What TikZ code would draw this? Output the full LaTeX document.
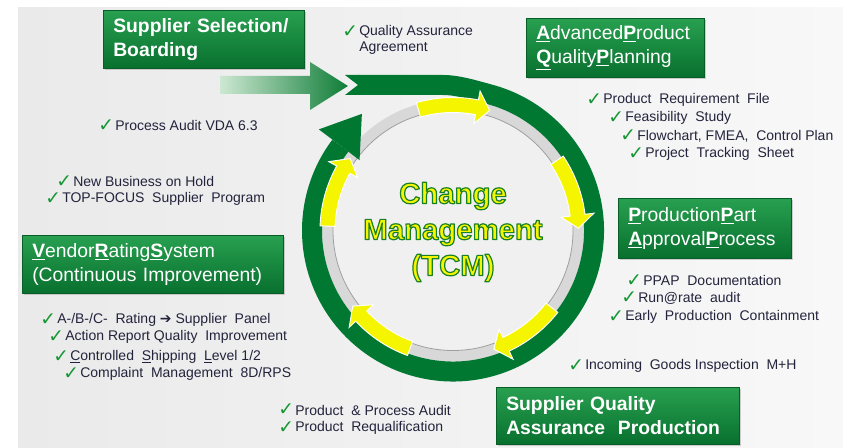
\documentclass[tikz,border=0pt]{standalone}
\usepackage{fontspec}
\setmainfont{Liberation Sans}
\newfontfamily\symf{DejaVu Sans}
\usetikzlibrary{shadows}
\definecolor{ringgreen}{RGB}{0,120,50}
\definecolor{boxtop}{RGB}{40,160,80}
\definecolor{boxbot}{RGB}{8,112,46}
\definecolor{listtext}{RGB}{35,35,60}
\definecolor{chkgreen}{RGB}{20,150,50}
\definecolor{bgL}{RGB}{234,234,234}
\definecolor{bgR}{RGB}{248,248,248}
\definecolor{tcmyellow}{RGB}{245,245,0}
\definecolor{grayband}{RGB}{216,216,216}
\definecolor{innerdisk}{RGB}{240,240,240}
\definecolor{arrowpale}{RGB}{205,232,210}
\definecolor{arrowdark}{RGB}{15,125,55}
\newcommand{\ck}{{\symf ✓}}
\newcommand{\ulb}[1]{\underline{\textbf{#1}}}
\newcommand{\ulc}[1]{\underline{#1}}
\newcommand{\outl}[1]{\special{pdf:literal direct 2 Tr 0.9 w 1 j 0.1 0.5 0.15 RG}#1\special{pdf:literal direct 0 Tr 0.4 w}}
\tikzset{
  stagebox/.style={draw=boxbot!85!black, line width=0.4pt, top color=boxtop, bottom color=boxbot,
    text=white, align=left, inner xsep=7.5pt, inner ysep=0pt,
    font=\fontsize{14.5}{18}\selectfont, anchor=north west,
    drop shadow={opacity=0.35, shadow xshift=1.2pt, shadow yshift=-1.2pt}},
  boldbox/.style={stagebox, font=\fontsize{14.5}{18}\selectfont\bfseries},
  chkmark/.style={text=chkgreen, inner xsep=0.6pt, inner ysep=0pt, font=\fontsize{14}{14}\symf},
  item/.style={anchor=west, inner sep=0pt, text=listtext, font=\fontsize{10.5}{12.6}\selectfont,
    label={[chkmark]west:\ck}},
  plainitem/.style={anchor=west, inner sep=0pt, text=listtext, font=\fontsize{10.5}{12.6}\selectfont},
  tcmtext/.style={align=center, font=\fontsize{22}{27}\selectfont\bfseries, inner sep=0pt},
  yarrow/.style={fill=tcmyellow, draw=white, line width=0.7pt, line join=miter}
}
\begin{document}
\begin{tikzpicture}[x=0.75pt,y=-0.75pt]
\useasboundingbox (0,0) rectangle (843,448);
% background
\fill[white] (0,0) rectangle (843,448);
\shade[left color=bgL, right color=bgR] (18,8) rectangle (843,448);

% ring
\begin{scope}[shift={(453,230.5)}, yscale=-1]
  \fill[grayband] (0,0) circle[radius=131];
  \filldraw[fill=innerdisk, draw=gray!75, line width=0.6pt] (0,0) circle[radius=120];
  \draw[ringgreen, line width=15pt] (-95,145.5) -- (-10,145.5) .. controls (5,145.5) and (22,140.1) .. (75:141)
     arc[start angle=75, end angle=-217, radius=141];
  \fill[ringgreen] (-108,155.5) -- (-94,155.5) -- (-94,135.5) -- (-108,135.5) -- (-95,145.5) -- cycle;
  \fill[ringgreen] (143:168) -- (128:148) -- (143:117) -- cycle;
  \foreach \s [evaluate=\s as \b using \s-27, evaluate=\s as \t using \s-33] in {106,34,-38,-110,178} {
    \draw[yarrow] (\s:118) arc[start angle=\s, end angle=\b, radius=118] -- (\b:109) -- (\t:125.5)
      -- (\b:142) -- (\b:133) arc[start angle=\b, end angle=\s, radius=133] -- cycle;
  }
\end{scope}

% supplier arrow
\shade[left color=arrowpale, right color=arrowdark] (220,76) -- (310,76) -- (310,62) -- (348,86)
  -- (310,110) -- (310,94) -- (220,94) -- cycle;

% center text with outline
\node[tcmtext, text=tcmyellow] (tcm) at (453,232) {\outl{Change}\\\outl{Management}\\\outl{(TCM)}};

% boxes
\node[boldbox, text width=135.75pt, minimum width=150.75pt, minimum height=43.5pt] (ss) at (103,10)
  {Supplier Selection/\\Boarding};
\node[stagebox, text width=118.5pt, minimum width=133.5pt, minimum height=44.25pt] (apqp) at (526,18)
  {\ulb{A}dvanced\ulb{P}roduct\\\ulb{Q}uality\ulb{P}lanning};
\node[stagebox, text width=114.75pt, minimum width=129.75pt, minimum height=45pt] (ppap) at (618,198)
  {\ulb{P}roduction\ulb{P}art\\\ulb{A}pproval\ulb{P}rocess};
\node[stagebox, text width=180.75pt, minimum width=195.75pt, minimum height=43.5pt] (vrs) at (22,235)
  {\ulb{V}endor\ulb{R}ating\ulb{S}ystem\\(Continuous Improvement)};
\node[boldbox, text width=167.25pt, minimum width=182.25pt, minimum height=42.75pt] (sqap) at (496,387)
  {Supplier Quality\\Assurance\ \ Production};

% list items
\node[item] (qaa) at (359,32) {Quality Assurance};
\node[plainitem] (qaa2) at (359,48) {Agreement};

\node[item] (prf) at (603,100) {Product \ Requirement \ File};
\node[item] (feas) at (625,118) {Feasibility \ Study};
\node[item] (flow) at (637,136) {Flowchart, FMEA, \ Control Plan};
\node[item] (pts) at (645,154) {Project \ Tracking \ Sheet};

\node[item] (vda) at (115,126) {Process Audit VDA 6.3};
\node[item] (nbh) at (73,182) {New Business on Hold};
\node[item] (top) at (62,199) {TOP-FOCUS \ Supplier \ Program};

\node[item] (abc) at (57,320) {A-/B-/C- \ Rating {\symf ➔} Supplier \ Panel};
\node[item] (arqi) at (65,337) {Action Report Quality \ Improvement};
\node[item] (csl) at (70,357) {\ulc{C}ontrolled \ \ulc{S}hipping \ \ulc{L}evel 1/2};
\node[item] (cm) at (80,374) {Complaint \ Management \ 8D/RPS};

\node[item] (ppd) at (643,281) {PPAP \ Documentation};
\node[item] (run) at (638,298) {Run@rate \ audit};
\node[item] (epc) at (625,317) {Early \ Production \ Containment};

\node[item] (igi) at (585,366) {Incoming \ Goods Inspection \ M+H};

\node[item] (ppa) at (295,410) {Product \ \& Process Audit};
\node[item] (preq) at (295,428) {Product \ Requalification};
\end{tikzpicture}
\end{document}
